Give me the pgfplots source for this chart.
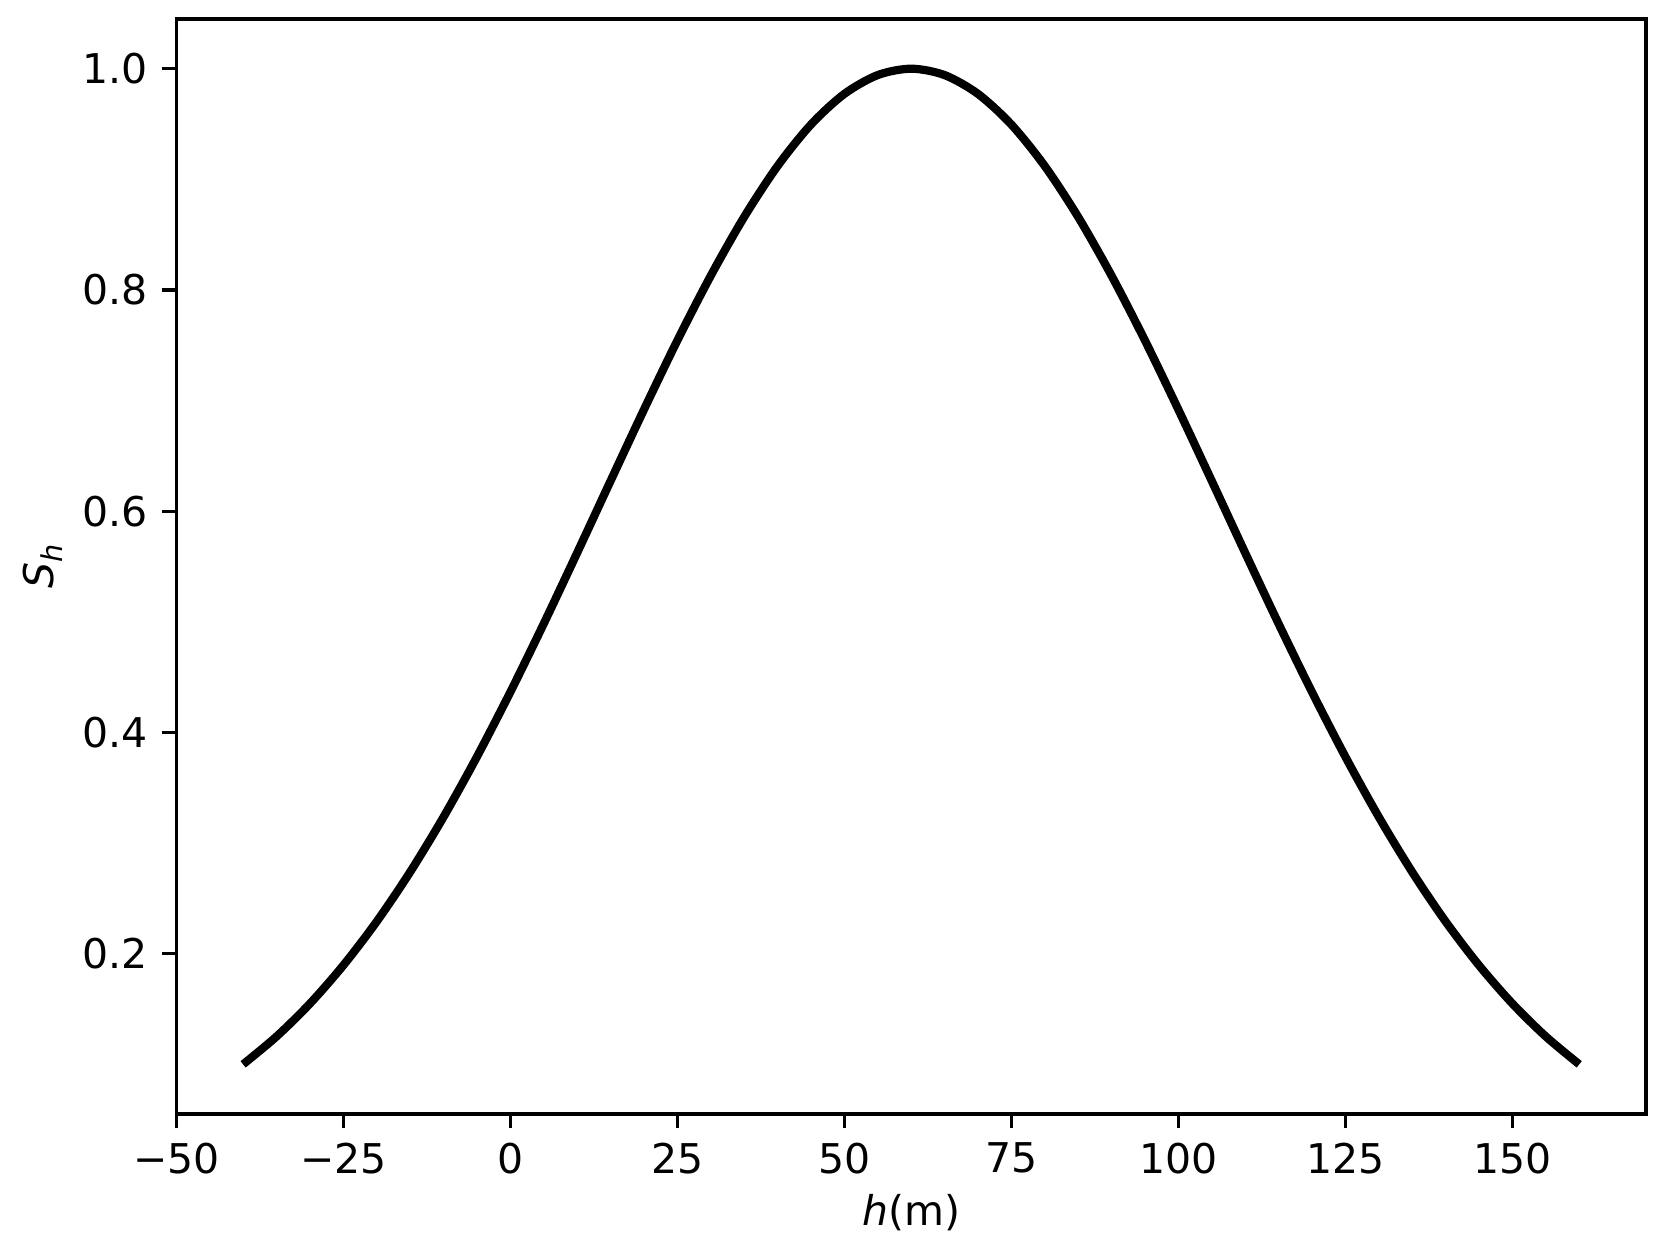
\documentclass[border=0pt]{standalone}
\usepackage{fontspec}
\setmainfont{DejaVu Sans}
\setsansfont{DejaVu Sans}
\usepackage{pgfplots}
\pgfplotsset{compat=1.18}
\begin{document}
\begin{tikzpicture}
\begin{axis}[
  scale only axis,
  width=4.96in, height=3.696in,
  xmin=-50, xmax=170, ymin=0.055, ymax=1.045,
  xtick={-50,-25,0,25,50,75,100,125,150},
  xticklabels={−50,−25,0,25,50,75,100,125,150},
  ytick={0.2,0.4,0.6,0.8,1.0},
  yticklabels={0.2,0.4,0.6,0.8,1.0},
  tick align=outside, tick pos=left,
  major tick length=3.5pt,
  every tick/.style={black, line width=0.8pt},
  axis line style={line width=0.8pt},
  ticklabel style={font=\fontsize{10}{12}\selectfont},
  xlabel={\textit{h}(m)},
  ylabel={\textit{S}\raisebox{-0.4ex}{\fontsize{7}{8}\selectfont\textit{h}}},
  label style={font=\fontsize{10}{12}\selectfont},
  xlabel style={yshift=2pt},
  ylabel style={yshift=-2pt},
]
\addplot[black, line width=2pt, smooth, line cap=butt] coordinates {
(-40,0.10000) (-35,0.12517) (-30,0.15488) (-25,0.18950) (-20,0.22909)
(-15,0.27384) (-10,0.32359) (-5,0.37801) (0,0.43652) (5,0.49831)
(10,0.56234) (15,0.62733) (20,0.69183) (25,0.75431) (30,0.81283)
(35,0.86596) (40,0.91201) (45,0.94952) (50,0.97724) (55,0.99426)
(60,1.00000) (65,0.99426) (70,0.97724) (75,0.94952) (80,0.91201)
(85,0.86596) (90,0.81283) (95,0.75431) (100,0.69183) (105,0.62733)
(110,0.56234) (115,0.49831) (120,0.43652) (125,0.37801) (130,0.32359)
(135,0.27384) (140,0.22909) (145,0.18950) (150,0.15488) (155,0.12517)
(160,0.10000)
};
\end{axis}
\pgfresetboundingbox
\path[use as bounding box] ([xshift=-0.595in,yshift=-0.473in]current axis.south west) rectangle ([xshift=0.064in,yshift=0.064in]current axis.north east);
\end{tikzpicture}
\end{document}
